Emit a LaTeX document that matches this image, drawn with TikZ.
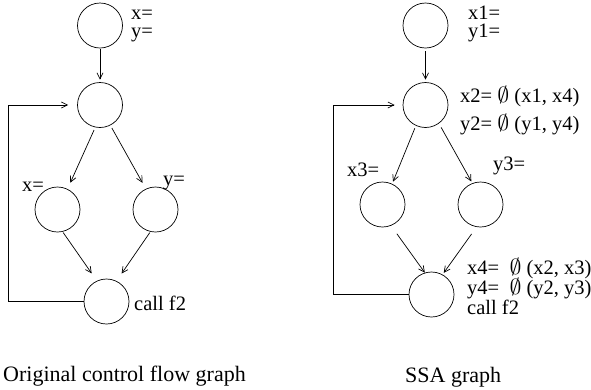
\documentclass[tikz,border=0pt]{standalone}
\usepackage{fontspec}
\usepackage{graphicx}
\setmainfont{Liberation Serif}
\usetikzlibrary{arrows.meta}
\newcommand{\myphi}{\scalebox{1.15}[1.05]{$\emptyset$}}
\begin{document}
\begin{tikzpicture}[x=1pt,y=-1pt,
  blk/.style={circle,draw,line width=0.7pt,minimum size=45pt,inner sep=0pt},
  arr/.style={line width=0.7pt,-{Straight Barb[length=6pt,width=6pt]}},
  lbl/.style={anchor=base west,inner sep=0pt,font=\fontsize{20.5}{22}\selectfont},
  captxt/.style={anchor=base west,inner sep=0pt,font=\fontsize{22}{24}\selectfont}]
\useasboundingbox (0,0) rectangle (591,389);
% left graph
\node[blk] (a1) at (100,25.5) {};
\node[blk] (b1) at (100,105) {};
\node[blk] (c1) at (57.5,209.5) {};
\node[blk] (d1) at (155.5,209.5) {};
\node[blk] (e1) at (106.5,301.5) {};
\node[lbl,text depth=0pt] (la1) at (131,19) {x=};
\node[lbl] (la2) at (131,37) {y=};
\node[lbl] (lc1) at (22,191) {x=};
\node[lbl] (ld1) at (163,185) {y=};
\node[lbl] (le1) at (134,310) {call f2};
\node[captxt] (cap1) at (3,381) {Original control flow graph};
\draw[arr,shorten <=1pt,shorten >=2.5pt] (a1.270) -- (b1.90);
\draw[arr,shorten <=3pt,shorten >=6.8pt] (b1.258.7) -- (c1.64.7);
\draw[arr,shorten <=3pt,shorten >=6.8pt] (b1.297.5) -- (d1.115.3);
\draw[arr,shorten <=1pt,shorten >=9pt] (c1.283) -- (e1.115.3);
\draw[arr,shorten <=1pt,shorten >=9pt] (d1.257) -- (e1.64.7);
\coordinate (fl1) at (8,301.5);
\draw[arr,shorten >=9pt] (e1.west) -- (fl1) |- (b1.west);
% right graph
\node[blk] (a2) at (425.5,25.5) {};
\node[blk] (b2) at (425.5,105) {};
\node[blk] (c2) at (382.5,204.5) {};
\node[blk] (d2) at (480.5,204.5) {};
\node[blk] (e2) at (431.5,294.5) {};
\node[lbl,text depth=0pt] (la3) at (468,19) {x1=};
\node[lbl,text height=1.2ex] (la4) at (468,37) {y1=};
\node[lbl] (lb1) at (460,102) {x2= \myphi\ (x1, x4)};
\node[lbl] (lb2) at (460,130) {y2= \myphi\ (y1, y4)};
\node[lbl] (lc2) at (347,176) {x3=};
\node[lbl] (ld2) at (493,170) {y3=};
\node[lbl] (le2) at (467,274) {x4=\ \ \myphi\ (x2, x3)};
\node[lbl] (le3) at (467,294) {y4=\ \ \myphi\ (y2, y3)};
\node[lbl] (le4) at (467,314) {call f2};
\node[captxt] (cap2) at (405,382) {SSA graph};
\draw[arr,shorten <=3pt,shorten >=2.5pt] (a2.270) -- (b2.90);
\draw[arr,shorten <=2.8pt,shorten >=2.3pt] (b2.245.5) -- (c2.65);
\draw[arr,shorten <=4.5pt,shorten >=2pt] (b2.306.7) -- (d2.111);
\draw[arr,shorten <=10pt,shorten >=0pt] (c2.292) -- (e2.107);
\draw[arr,shorten <=8.5pt,shorten >=2pt] (d2.260) -- (e2.61);
\coordinate (fl2) at (333,294.5);
\draw[arr,shorten >=8pt] (e2.west) -- (fl2) |- (b2.west);
\end{tikzpicture}
\end{document}
